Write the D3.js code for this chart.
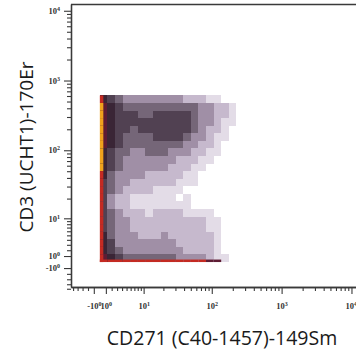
<!DOCTYPE html>
<html>
<head>
<meta charset="utf-8">
<script src="https://cdn.jsdelivr.net/npm/d3@7"></script>
<style>
  body { margin: 0; background: #fff; }
  svg { display: block; }
</style>
</head>
<body>
<script>
// axis labels
const xTitle = "CD271 (C40-1457)-149Sm";
const yTitle = "CD3 (UCHT1)-170Er";

// arcsinh transform, cofactor 5
const cofactor = 5;
const xDomain = [-5.5, 12000];
const yDomain = [-4.6, 12500];

// major ticks and their labels (base, exponent)
const majorTicks = [-1, 1, 10, 100, 1000, 10000];
const majorLabels = [["-10", "0"], ["10", "0"], ["10", "1"], ["10", "2"], ["10", "3"], ["10", "4"]];
const minorTicks = [-5, -4, -3, -2,
  2, 3, 4, 5, 6, 7, 8, 9,
  20, 30, 40, 50, 60, 70, 80, 90,
  200, 300, 400, 500, 600, 700, 800, 900,
  2000, 3000, 4000, 5000, 6000, 7000, 8000, 9000];

// event density, binned in arcsinh units (0.25 per bin)
// rows from top (high CD3) to bottom (CD3 ~ 0), columns CD271 from 0 upward
const binWidth = 0.25;
const densityRows = [
  "00000000000000000000",
  "65433333333222110000",
  "76544444444443322100",
  "76555445555543322100",
  "76555555555543321100",
  "76554555555543221000",
  "76544445555433211000",
  "76544444444332210000",
  "65443344433322110000",
  "65433333332221100000",
  "65433333322211000000",
  "64333322222110000000",
  "54332222221110000000",
  "54322221111000000000",
  "53221111110100000000",
  "53221111111100000000",
  "54322212222111100000",
  "54332222222222110000",
  "54332222222222110000",
  "64333222322222210000",
  "65333333332222210000",
  "65433333333222210000",
  "76544444443333211000"
];
// events piled at CD271 = 0, per CD3 row (top first)
const cd271ZeroLevels = [0, 8, 9, 9, 9, 9, 9, 9, 9, 9, 9, 8, 8, 8, 8, 8, 8, 8, 8, 8, 8, 8, 8];
// events piled at CD3 = 0, per CD271 column
const cd3ZeroLevels = [8, 8, 8, 8, 8, 8, 8, 8, 8, 8, 8, 8, 8, 8, 7, 7, 0, 0, 0, 0];

const levelColors = ["none", "#e3dce7", "#c6b9cd", "#a08fa6", "#756678", "#514152", "#3a2536", "#5e1c34", "#c42a22", "#f0a21c"];

const width = 356, height = 350;
const asinhT = v => Math.asinh(v / cofactor);

const svg = d3.select("body").append("svg")
  .attr("width", width)
  .attr("height", height);

const x = d3.scaleLinear().domain(xDomain.map(asinhT)).range([71, 357]);
const y = d3.scaleLinear().domain(yDomain.map(asinhT)).range([287, 4]);

// density cells
const nRows = densityRows.length;
const cells = [];
densityRows.forEach((row, r) => {
  const j = nRows - 1 - r;
  row.split("").forEach((c, i) => {
    const lv = +c;
    if (lv > 0) cells.push({ i, j, lv });
  });
});

svg.append("g")
  .attr("shape-rendering", "crispEdges")
  .selectAll("rect")
  .data(cells)
  .enter()
  .append("rect")
  .attr("x", d => x(d.i * binWidth))
  .attr("y", d => y((d.j + 1) * binWidth))
  .attr("width", d => x((d.i + 1) * binWidth) - x(d.i * binWidth))
  .attr("height", d => y(d.j * binWidth) - y((d.j + 1) * binWidth))
  .attr("fill", d => levelColors[d.lv]);

// zero piles
svg.append("g")
  .selectAll("rect")
  .data(cd271ZeroLevels.map((lv, r) => ({ j: nRows - 1 - r, lv })).filter(d => d.lv > 0))
  .enter()
  .append("rect")
  .attr("x", x(0))
  .attr("y", d => y((d.j + 1) * binWidth))
  .attr("width", 3.5)
  .attr("height", d => y(d.j * binWidth) - y((d.j + 1) * binWidth))
  .attr("fill", d => levelColors[d.lv]);

svg.append("g")
  .selectAll("rect")
  .data(cd3ZeroLevels.map((lv, i) => ({ i, lv })).filter(d => d.lv > 0))
  .enter()
  .append("rect")
  .attr("x", d => x(d.i * binWidth))
  .attr("y", y(0) - 2.5)
  .attr("width", d => x((d.i + 1) * binWidth) - x(d.i * binWidth))
  .attr("height", 2.5)
  .attr("fill", d => levelColors[d.lv]);

// axes
function styleAxis(g) {
  g.select(".domain").attr("stroke", "#3a3a3a").attr("stroke-width", 1.3);
  g.selectAll(".tick line").attr("stroke", "#3a3a3a").attr("stroke-width", 1.1);
}

function labelTicks(g) {
  g.selectAll(".tick text").each(function(d, i) {
    const t = d3.select(this);
    const lab = majorLabels[i];
    t.text(null);
    t.append("tspan").text(lab[0]);
    t.append("tspan").attr("dy", "-0.5em").attr("font-size", "6px").text(lab[1]);
  });
  g.selectAll(".tick text")
    .attr("font-family", "'Liberation Serif', serif")
    .attr("font-weight", "bold")
    .attr("font-size", "8.5px")
    .attr("fill", "#333");
}

const xAxis = svg.append("g")
  .attr("transform", "translate(0," + y.range()[0] + ")");
xAxis.append("g")
  .call(d3.axisBottom(x).tickValues(minorTicks.map(asinhT)).tickSize(4).tickSizeOuter(0).tickFormat(""))
  .call(styleAxis);
const xMajor = xAxis.append("g")
  .call(d3.axisBottom(x).tickValues(majorTicks.map(asinhT)).tickSize(7).tickSizeOuter(0).tickPadding(9))
  .call(styleAxis)
  .call(labelTicks);
// keep the last label inside the picture
xMajor.selectAll(".tick text").filter((d, i, n) => i === n.length - 1)
  .attr("text-anchor", "end")
  .attr("dx", "5px");

const yAxis = svg.append("g")
  .attr("transform", "translate(" + x.range()[0] + ",0)");
yAxis.append("g")
  .call(d3.axisLeft(y).tickValues(minorTicks.map(asinhT)).tickSize(4).tickSizeOuter(0).tickFormat(""))
  .call(styleAxis);
yAxis.append("g")
  .call(d3.axisLeft(y).tickValues(majorTicks.map(asinhT)).tickSize(7).tickSizeOuter(0).tickPadding(4))
  .call(styleAxis)
  .call(labelTicks);

// top frame line
svg.append("line")
  .attr("x1", x.range()[0]).attr("x2", x.range()[1])
  .attr("y1", y.range()[1] + 0.5).attr("y2", y.range()[1] + 0.5)
  .attr("stroke", "#3a3a3a")
  .attr("stroke-width", 1.3);

// titles
svg.append("text")
  .attr("x", 222)
  .attr("y", 345)
  .attr("text-anchor", "middle")
  .attr("font-family", "'Open Sans', sans-serif")
  .attr("font-size", "19.5px")
  .attr("fill", "#1a1a1a")
  .text(xTitle);

svg.append("text")
  .attr("transform", "translate(33,147) rotate(-90)")
  .attr("text-anchor", "middle")
  .attr("font-family", "'Open Sans', sans-serif")
  .attr("font-size", "19px")
  .attr("fill", "#1a1a1a")
  .text(yTitle);
</script>
</body>
</html>
